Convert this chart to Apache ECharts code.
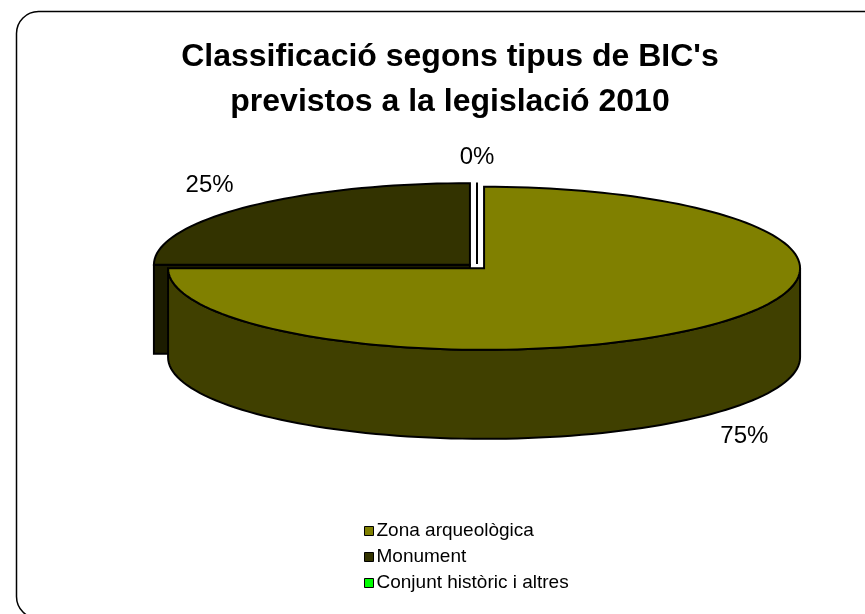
<!DOCTYPE html>
<html><head><meta charset="utf-8">
<script src="https://cdn.jsdelivr.net/npm/echarts@6/dist/echarts.min.js"></script>
<style>html,body{margin:0;padding:0;background:#fff}#c{width:865px;height:614px}</style>
</head><body><div id="c"></div>
<script>
// ---- data ----
const categories = ['Zona arqueològica', 'Monument', 'Conjunt històric i altres'];
const values = [75, 25, 0];
const labels = ['75%', '25%', '0%'];
const colors = ['#808000', '#333300', '#00ff00'];
const sideColors = ['#404000', '#1c1c00', '#008000'];
const titleText = "Classificació segons tipus de BIC's\nprevistos a la legislació 2010";

// ---- layout (3D pie geometry) ----
const CX = 477, CY = 266.5, RX = 316, RY = 81.5, DEPTH = 89, EXPLODE = 10;
const FONT = "'Liberation Sans', Arial, sans-serif";

const total = values.reduce((a, b) => a + b, 0);
const starts = [], ends = [];
let acc = 0;
values.forEach(v => { starts.push(acc / total * 360); acc += v; ends.push(acc / total * 360); });
const rad = d => d * Math.PI / 180;
function pt(cx, cy, th, dy) { return [cx + RX * Math.sin(rad(th)), cy - RY * Math.cos(rad(th)) + (dy || 0)]; }
function arc(cx, cy, a, b, dy) {
  const pts = []; const n = Math.max(2, Math.ceil(Math.abs(b - a) / 2));
  for (let j = 0; j <= n; j++) pts.push(pt(cx, cy, a + (b - a) * j / n, dy));
  return pts;
}

function makeRender(i) {
  return function (params, api) {
    const s = starts[i], e = ends[i], m = (s + e) / 2;
    const cx = CX + EXPLODE * Math.sin(rad(m));
    const cy = CY - EXPLODE * RY / RX * Math.cos(rad(m));
    const st = { stroke: '#000', lineWidth: 2, lineJoin: 'miter' };
    const children = [];
    if (e - s < 1e-6) {
      const p = pt(cx, cy, s);
      children.push({ type: 'line', shape: { x1: cx, y1: cy, x2: p[0], y2: p[1] }, style: { stroke: '#000', lineWidth: 2 } });
    } else {
      if (Math.sin(rad(s)) < -1e-6) {
        const p = pt(cx, cy, s);
        children.push({ type: 'polygon', shape: { points: [[cx, cy], p, [p[0], p[1] + DEPTH], [cx, cy + DEPTH]] }, style: Object.assign({ fill: sideColors[i] }, st) });
      }
      if (Math.sin(rad(e)) > 1e-6) {
        const p = pt(cx, cy, e);
        children.push({ type: 'polygon', shape: { points: [[cx, cy], p, [p[0], p[1] + DEPTH], [cx, cy + DEPTH]] }, style: Object.assign({ fill: sideColors[i] }, st) });
      }
      const a = Math.max(s, 90), b = Math.min(e, 270);
      if (b > a) {
        const top = arc(cx, cy, a, b, 0), bot = arc(cx, cy, a, b, DEPTH).reverse();
        children.push({ type: 'polygon', shape: { points: top.concat(bot) }, style: Object.assign({ fill: sideColors[i] }, st) });
      }
      children.push({ type: 'polygon', shape: { points: [[cx, cy]].concat(arc(cx, cy, s, e, 0)) }, style: Object.assign({ fill: colors[i] }, st) });
    }
    const k = 1.165, cm = Math.cos(rad(m));
    const lx = cx + RX * k * Math.sin(rad(m));
    const ly = cy - RY * k * cm + (cm < 0 ? DEPTH + 12 : -12);
    children.push({ type: 'text', style: { text: labels[i], x: lx, y: ly, fill: '#000', fontSize: 24, fontFamily: FONT, align: 'center', verticalAlign: 'middle' } });
    return { type: 'group', children: children };
  };
}

const zs = [3, 2, 4];
const series = categories.map((c, i) => ({
  type: 'custom', name: c, coordinateSystem: 'none', renderItem: makeRender(i),
  data: [[values[i]]], itemStyle: { color: colors[i] }, z: zs[i], silent: true, animation: false
}));

const chart = echarts.init(document.getElementById('c'), null, { renderer: 'canvas' });
chart.setOption({
  animation: false,
  backgroundColor: '#fff',
  title: {
    text: titleText, left: 445, top: 30, textAlign: 'center',
    textStyle: { fontSize: 32, fontWeight: 'bold', fontFamily: FONT, color: '#000', lineHeight: 45 }
  },
  legend: {
    orient: 'vertical', left: 364, top: 521, padding: 0, data: categories,
    icon: 'rect', itemWidth: 9, itemHeight: 9, itemGap: 6,
    itemStyle: { borderColor: '#000', borderWidth: 1 },
    textStyle: { fontSize: 19, fontFamily: FONT, color: '#000', lineHeight: 20, padding: [0, 0, 0, -2] },
    selectedMode: false
  },
  graphic: [{
    type: 'rect', shape: { x: 16.5, y: 11.5, width: 900, height: 607, r: 22 },
    style: { fill: 'none', stroke: '#000', lineWidth: 1.5 }, silent: true
  }],
  series: series
});
</script></body></html>
